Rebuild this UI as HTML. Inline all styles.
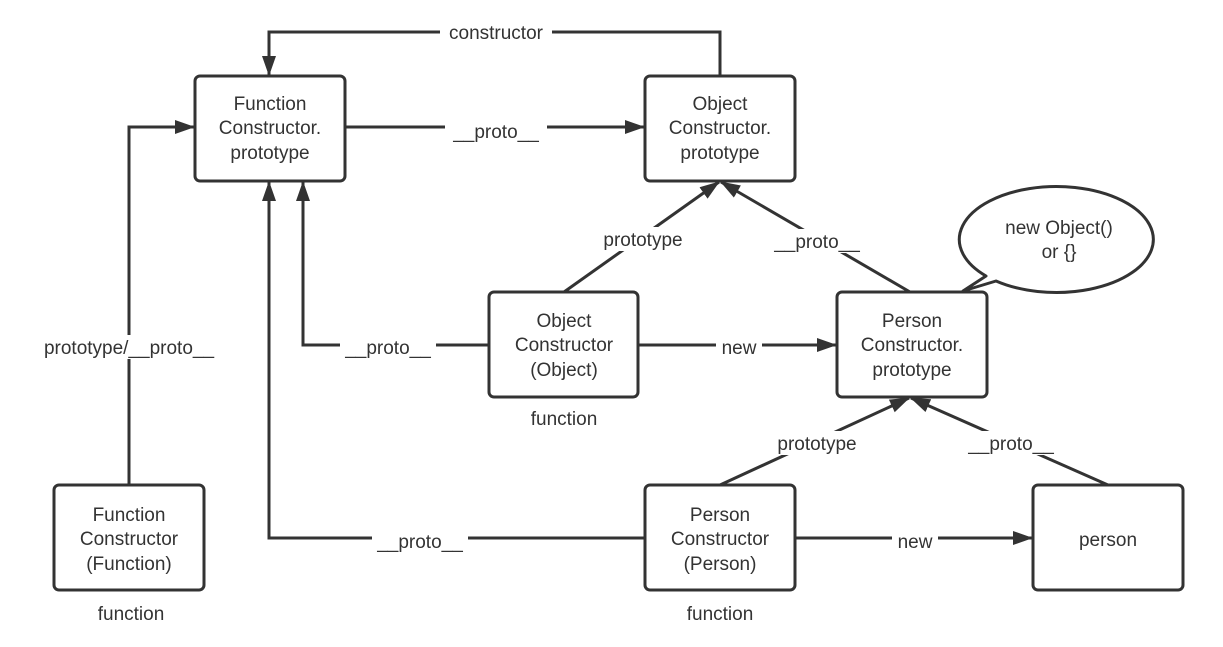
<!DOCTYPE html>
<html><head><meta charset="utf-8"><style>
html,body{margin:0;padding:0;background:#fff;}
svg{display:block;}
text{font-family:"Liberation Sans","Noto Sans CJK SC",sans-serif;font-size:19px;fill:#333;text-anchor:middle;}
</style></head><body>
<svg width="1223" height="647" viewBox="0 0 1223 647" xmlns="http://www.w3.org/2000/svg">
<defs>
<marker id="a" markerWidth="10" markerHeight="10" refX="9" refY="5" orient="auto" markerUnits="userSpaceOnUse" viewBox="0 0 10 10">
<path d="M0,0 L10,5 L0,10 Z" fill="#333"/>
</marker>
<marker id="b" markerWidth="20" markerHeight="14" refX="19" refY="7" orient="auto" markerUnits="userSpaceOnUse" viewBox="0 0 20 14">
<path d="M0,0 L20,7 L0,14 Z" fill="#333"/>
</marker>
</defs>
<g fill="none" stroke="#333" stroke-width="3">
<polyline points="720,76 720,32 269,32 269,75" marker-end="url(#b)"/>
<line x1="345" y1="127" x2="644" y2="127" marker-end="url(#b)"/>
<polyline points="129,485 129,127 194,127" marker-end="url(#b)"/>
<polyline points="489,345 303,345 303,182" marker-end="url(#b)"/>
<line x1="564" y1="292" x2="719" y2="182" marker-end="url(#b)"/>
<line x1="910" y1="292" x2="721" y2="182" marker-end="url(#b)"/>
<line x1="638" y1="345" x2="836" y2="345" marker-end="url(#b)"/>
<line x1="720" y1="485" x2="909" y2="398" marker-end="url(#b)"/>
<line x1="1108" y1="485" x2="911" y2="398" marker-end="url(#b)"/>
<polyline points="645,538 269,538 269,182" marker-end="url(#b)"/>
<line x1="795" y1="538" x2="1032" y2="538" marker-end="url(#b)"/>
</g>
<g fill="#fff" stroke="#333" stroke-width="3">
<rect x="195" y="76" width="150" height="105" rx="5"/>
<rect x="645" y="76" width="150" height="105" rx="5"/>
<rect x="489" y="292" width="149" height="105" rx="5"/>
<rect x="837" y="292" width="150" height="105" rx="5"/>
<rect x="54" y="485" width="150" height="105" rx="5"/>
<rect x="645" y="485" width="150" height="105" rx="5"/>
<rect x="1033" y="485" width="150" height="105" rx="5"/>
<path d="M986,276 A97,53 0 1 1 996,281 L963,291 Z" stroke-linejoin="round"/>
</g>
<g fill="#fff">
<rect x="440" y="20" width="112" height="24"/>
<rect x="445" y="119" width="102" height="24"/>
<rect x="36" y="335" width="188" height="24"/>
<rect x="340" y="335" width="96" height="24"/>
<rect x="594" y="227" width="98" height="24"/>
<rect x="770" y="229" width="94" height="24"/>
<rect x="716" y="335" width="46" height="24"/>
<rect x="768" y="431" width="98" height="24"/>
<rect x="964" y="431" width="94" height="24"/>
<rect x="372" y="529" width="96" height="24"/>
<rect x="892" y="529" width="46" height="24"/>
</g>
<text x="496" y="39">constructor</text>
<text x="496" y="138">__proto__</text>
<text x="129" y="354">prototype/__proto__</text>
<text x="388" y="354">__proto__</text>
<text x="643" y="246">prototype</text>
<text x="817" y="248">__proto__</text>
<text x="739" y="354">new</text>
<text x="817" y="450">prototype</text>
<text x="1011" y="450">__proto__</text>
<text x="420" y="548">__proto__</text>
<text x="915" y="548">new</text>
<text x="270" y="110">Function</text><text x="270" y="134">Constructor.</text><text x="270" y="159">prototype</text>
<text x="720" y="110">Object</text><text x="720" y="134">Constructor.</text><text x="720" y="159">prototype</text>
<text x="564" y="327">Object</text><text x="564" y="351">Constructor</text><text x="564" y="376">(Object)</text>
<text x="912" y="327">Person</text><text x="912" y="351">Constructor.</text><text x="912" y="376">prototype</text>
<text x="129" y="521">Function</text><text x="129" y="545">Constructor</text><text x="129" y="570">(Function)</text>
<text x="720" y="521">Person</text><text x="720" y="545">Constructor</text><text x="720" y="570">(Person)</text>
<text x="1108" y="546">person</text>
<text x="1059" y="234">new Object()</text><text x="1059" y="258">or {}</text>
<text x="564" y="425">function</text>
<text x="131" y="620">function</text>
<text x="720" y="620">function</text>
</svg>
</body></html>
